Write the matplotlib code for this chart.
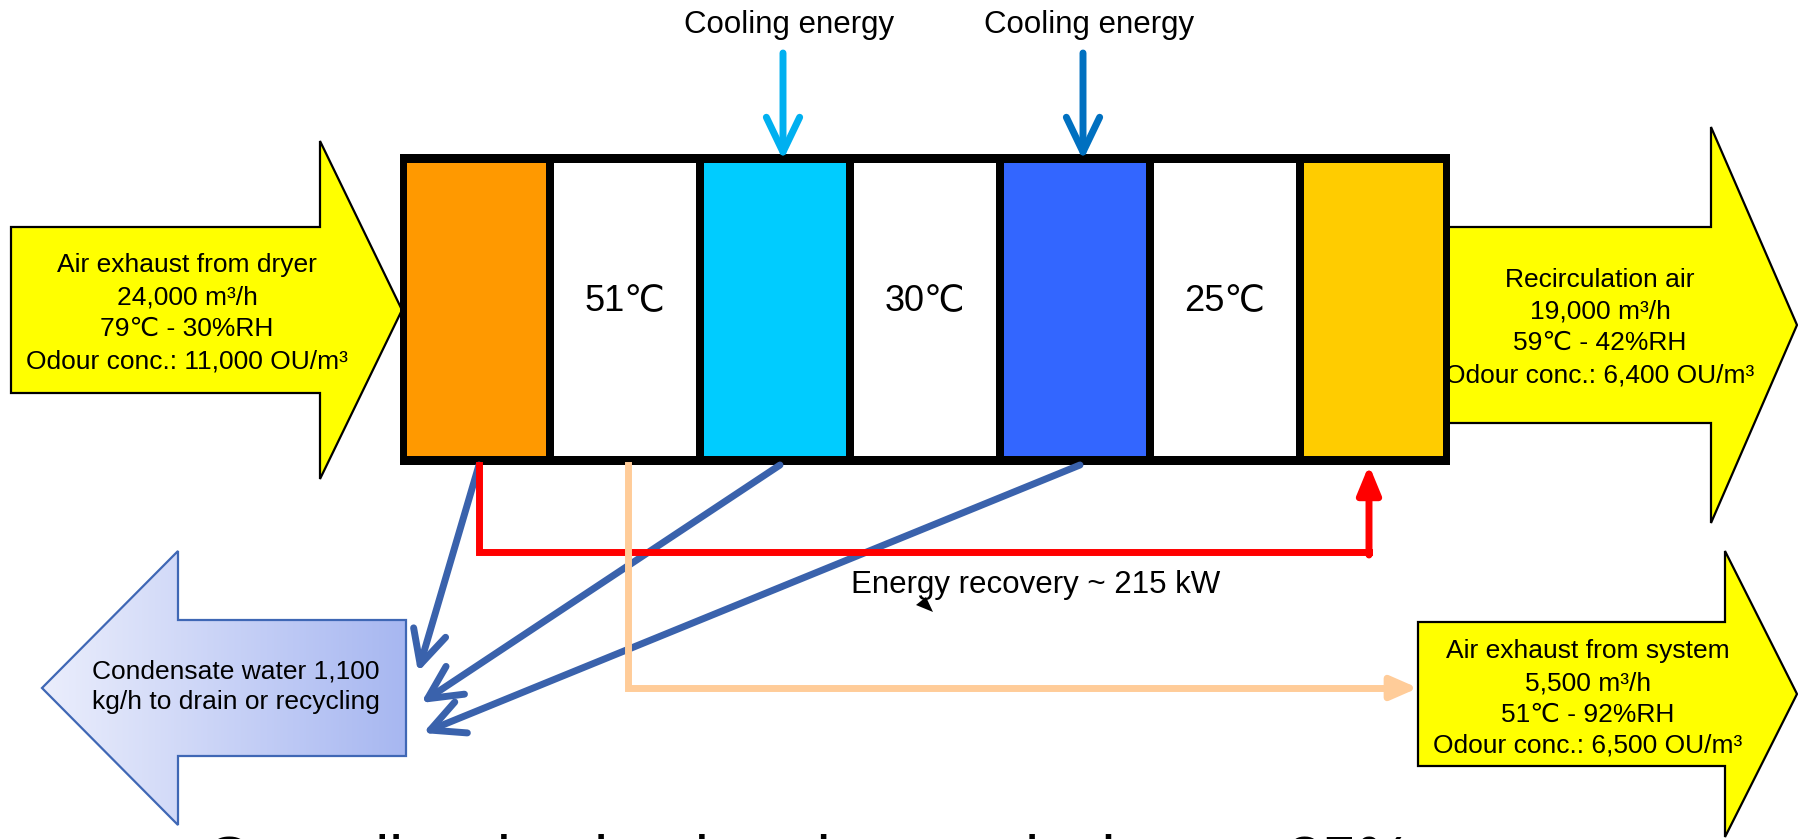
import numpy as np
import matplotlib
matplotlib.use('Agg')
import matplotlib.pyplot as plt
from matplotlib.patches import Polygon, Rectangle
from matplotlib.colors import LinearSegmentedColormap

plt.rcParams['font.family'] = ['Liberation Sans', 'DejaVu Sans']

# unit sections, left to right
section_colors = ['#FF9900', '#FFFFFF', '#00CCFF', '#FFFFFF', '#3366FF', '#FFFFFF', '#FFCC00']
section_labels = ['', '51℃', '', '30℃', '', '25℃', '']

inlet_text = ['Air exhaust from dryer', '24,000 m³/h', '79℃ - 30%RH',
              'Odour conc.: 11,000 OU/m³']
recirc_text = ['Recirculation air', '19,000 m³/h', '59℃ - 42%RH',
               'Odour conc.: 6,400 OU/m³']
outlet_text = ['Air exhaust from system', '5,500 m³/h', '51℃ - 92%RH',
               'Odour conc.: 6,500 OU/m³']
condensate_text = ['Condensate water 1,100', 'kg/h to drain or recycling']

cooling_label = 'Cooling energy'
cooling_sections = [2, 4]
cooling_colors = ['#00B0F0', '#0070C0']
condensate_sections = [0, 2, 4]
recovery_label = 'Energy recovery ~ 215 kW'
caption = 'Overall reduction in odour emissions ~ 35%'

W, H = 1798, 839

# geometry of the unit (pixels)
box_x0, sec_w, box_y0, box_y1 = 400, 150, 154, 465


def block_arrow(base_x, neck_x, tip_x, cy, body_h, head_h):
    return [(base_x, cy - body_h), (neck_x, cy - body_h), (neck_x, cy - head_h),
            (tip_x, cy), (neck_x, cy + head_h), (neck_x, cy + body_h),
            (base_x, cy + body_h)]


def write_lines(ax, x, baselines, lines, size=19):
    for y, s in zip(baselines, lines):
        ax.text(x, y, s, ha='center', va='baseline', fontsize=size, zorder=2)


fig = plt.figure(figsize=(W / 100, H / 100), dpi=100)
ax = fig.add_axes([0, 0, 1, 1])

# yellow flow arrows
yellow_arrows = [block_arrow(11, 320, 402, 310, 83, 169),
                 block_arrow(1440, 1711, 1797, 325, 98, 198),
                 block_arrow(1418, 1725, 1797, 694, 72, 143)]
for pts in yellow_arrows:
    ax.add_patch(Polygon(pts, closed=True, facecolor='#FFFF00', edgecolor='black',
                         lw=1.6, joinstyle='miter', zorder=1))

write_lines(ax, 187, [272, 304, 336, 368], inlet_text)
write_lines(ax, 1600, [287, 319, 350, 382], recirc_text)
write_lines(ax, 1588, [658, 690, 722, 753], outlet_text)

# condensate arrow with gradient fill
cond = Polygon(block_arrow(406, 178, 42, 688, 68, 137), closed=True,
               facecolor='none', edgecolor='#3F67B5', lw=1.6, zorder=2)
ax.add_patch(cond)
grad = np.linspace(0, 1, 256).reshape(1, -1)
cmap = LinearSegmentedColormap.from_list('cond', ['#EBEEFC', '#A7B7F1'])
im = ax.imshow(grad, cmap=cmap, extent=(42, 406, 825, 551), aspect='auto', zorder=1)
im.set_clip_path(cond)
write_lines(ax, 236, [678, 709], condensate_text)

# main unit
ax.add_patch(Rectangle((box_x0, box_y0), sec_w * len(section_colors), box_y1 - box_y0,
                       facecolor='black', edgecolor='none', zorder=3))
n = len(section_colors)
for i, (c, lab) in enumerate(zip(section_colors, section_labels)):
    x0 = box_x0 + sec_w * i + (7 if i == 0 else 4)
    x1 = box_x0 + sec_w * (i + 1) - (7 if i == n - 1 else 4)
    ax.add_patch(Rectangle((x0, 163), x1 - x0, 293, facecolor=c, edgecolor='none', zorder=4))
    if lab:
        ax.text((x0 + x1) / 2, 311, lab, ha='center', va='baseline',
                fontsize=26, zorder=5)

# cooling energy inputs
for sec, col in zip(cooling_sections, cooling_colors):
    cx = box_x0 + sec_w * (sec + 0.5) + 8
    ax.annotate('', xy=(cx, 160), xytext=(cx, 53),
                arrowprops=dict(arrowstyle='->,head_length=2.5,head_width=1.2',
                                color=col, lw=5, shrinkA=0, shrinkB=0,
                                mutation_scale=10), zorder=6)
    ax.text(cx + 6, 33, cooling_label, ha='center', va='baseline', fontsize=22.5)

# condensate lines to drain
cond_tips = [(418, 672), (421, 703), (423, 733)]
for sec, tip in zip(condensate_sections, cond_tips):
    sx = box_x0 + sec_w * (sec + 0.5) + (4 if sec == 0 else 5)
    ax.annotate('', xy=tip, xytext=(sx, box_y1),
                arrowprops=dict(arrowstyle='->,head_length=2.4,head_width=1.2',
                                color='#3A62AC', lw=5, shrinkA=0, shrinkB=0,
                                mutation_scale=10), zorder=6)

# energy recovery loop (red)
rx0 = box_x0 + sec_w * 0.5 + 4
rx1 = box_x0 + sec_w * 6.5 - 6
ry = 552
ax.plot([rx0, rx0, rx1], [box_y1, ry, ry], color='#FF0000', lw=5,
        solid_joinstyle='miter', zorder=7)
ax.annotate('', xy=(rx1, box_y1), xytext=(rx1, ry + 3),
            arrowprops=dict(arrowstyle='-|>,head_length=1.7,head_width=0.7',
                            color='#FF0000', lw=5, shrinkA=0, shrinkB=0,
                            mutation_scale=10), zorder=7)
ax.text(1036, 593, recovery_label, ha='center', va='baseline', fontsize=22.5)
ax.add_patch(Polygon([(916, 605), (933, 612), (926, 597)], closed=True,
                     facecolor='black', edgecolor='none', zorder=7))

# air exhaust line (peach)
px0 = box_x0 + sec_w * 1.5 + 3
py = 688
ax.plot([px0, px0, 1400], [box_y1, py, py], color='#FFCC99', lw=5,
        solid_joinstyle='miter', zorder=7)
ax.annotate('', xy=(1418, py), xytext=(1398, py),
            arrowprops=dict(arrowstyle='-|>,head_length=1.6,head_width=0.7',
                            color='#FFCC99', lw=5, shrinkA=0, shrinkB=0,
                            mutation_scale=10), zorder=7)

# caption, cut by the lower edge as in the slide
ax.text(205, 880, caption, ha='left', va='baseline', fontsize=45)

ax.set_xlim(0, W)
ax.set_ylim(H, 0)
ax.axis('off')
fig.savefig('out.png', dpi=100)
